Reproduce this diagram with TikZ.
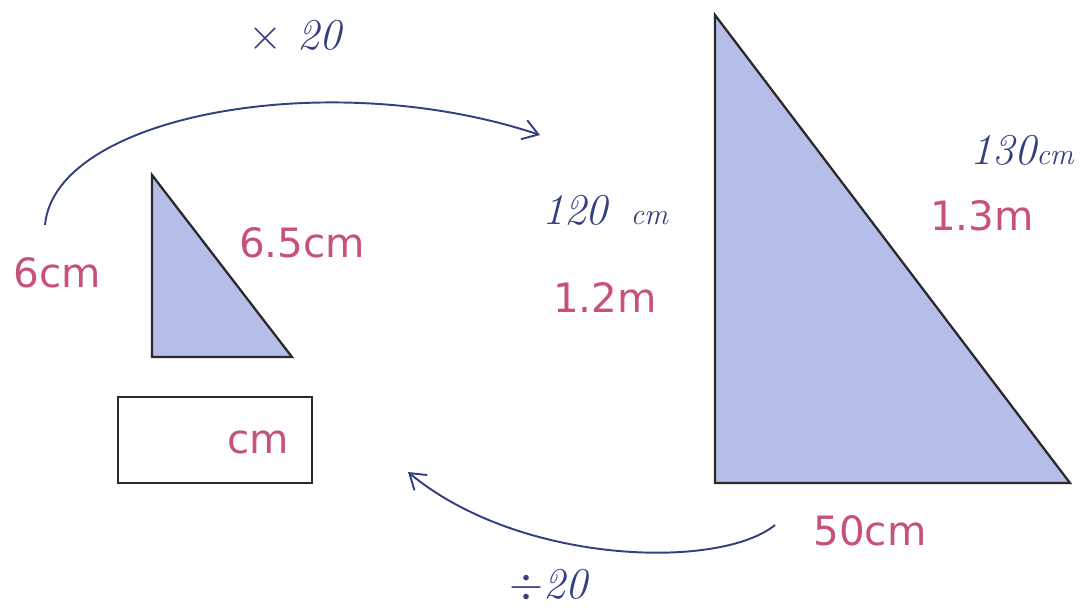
\documentclass[tikz,border=0pt]{standalone}
\usepackage{fontspec}
\newfontfamily\labelfont{DejaVu Sans}
\usetikzlibrary{arrows.meta}
\definecolor{pinklab}{HTML}{C8507C}
\definecolor{handblue}{HTML}{33407F}
\definecolor{trifill}{HTML}{B5BDE8}
\definecolor{triedge}{HTML}{2A2A2A}
\newcommand{\smallcm}{{\fontsize{17}{19}\selectfont cm}}
\tikzset{
  px/.style={x=0.02cm,y=-0.02cm},
  measure/.style={text=pinklab,font=\labelfont\fontsize{23}{25}\selectfont,inner sep=0pt},
  hand/.style={text=handblue,font=\itshape\fontsize{25}{27}\selectfont,inner sep=0pt},
  tri/.style={fill=trifill,draw=triedge,line width=1.3pt,line join=miter},
  answerbox/.style={draw=triedge,line width=1.3pt,minimum width=3.88cm,minimum height=1.72cm,inner sep=0pt},
  scalearrow/.style={draw=handblue,line width=1.1pt,-{Straight Barb[length=3mm,width=4mm]}}
}
\begin{document}
\begin{tikzpicture}[px]
\useasboundingbox (0,0) rectangle (1085,610);
% small triangle
\coordinate (sA) at (152,175);
\coordinate (sB) at (152,357);
\coordinate (sC) at (292,357);
\path[tri] (sA) -- (sB) -- (sC) -- cycle;
% large triangle
\coordinate (bA) at (715,15);
\coordinate (bB) at (715,483);
\coordinate (bC) at (1070,483);
\path[tri] (bA) -- (bB) -- (bC) -- cycle;
% answer box
\node[answerbox] (box) at (215,440) {};
\node[measure] (boxcm) at (258,442) {cm};
% pink labels
\node[measure] (l6) at (57,273) {6cm};
\node[measure] (l65) at (302,243) {6.5cm};
\node[measure] (l12) at (605,297) {1.2m};
\node[measure] (l13) at (982,216) {1.3m};
\node[measure] (l50) at (870,531) {50cm};
% handwritten labels
\node[hand] (times) at (295,37) {\(\times\) 20};
\node[hand] (n120) at (605,210) {120\, \smallcm};
\node[hand] (n130) at (1022,150) {130\smallcm};
\node[hand] (div) at (548,586) {\(\div\)20};
% arrows
\coordinate (upStart) at (45,225);
\coordinate (upEnd) at (540,135);
\draw[scalearrow] (upStart) .. controls (55,115) and (330,65) .. (upEnd);
\coordinate (dnStart) at (775,525);
\coordinate (dnEnd) at (408,472);
\draw[scalearrow] (dnStart) .. controls (720,570) and (520,565) .. (dnEnd);
\end{tikzpicture}
\end{document}
